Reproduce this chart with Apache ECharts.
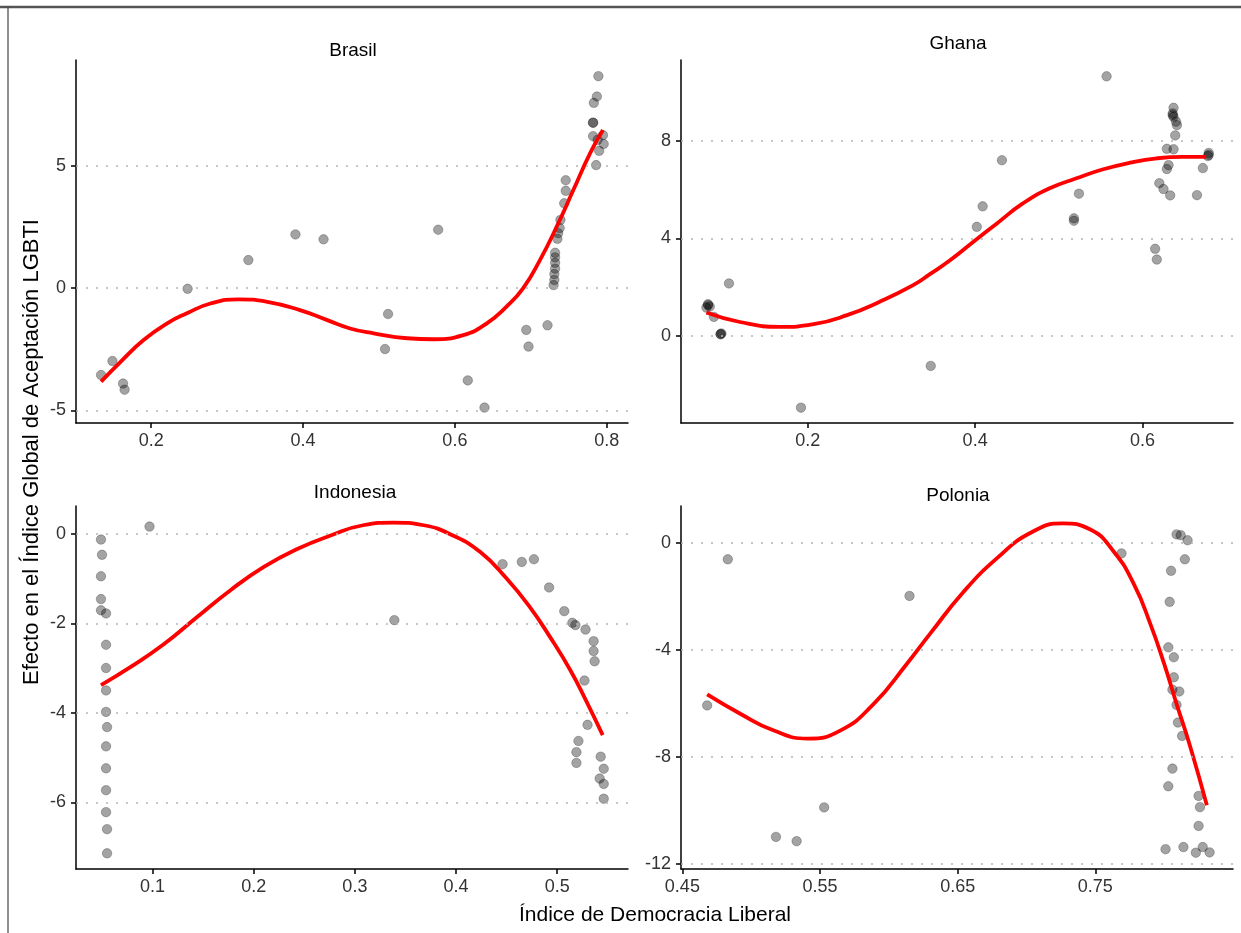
<!DOCTYPE html>
<html>
<head>
<meta charset="utf-8">
<script src="https://cdn.jsdelivr.net/npm/echarts@6/dist/echarts.min.js"></script>
<style>
  html, body { margin: 0; padding: 0; background: #fff; }
  #chart { width: 1241px; height: 933px; }
</style>
</head>
<body>
<div id="chart"></div>
<script>
// ---------------- Data ----------------
const panelTitles = ["Brasil", "Ghana", "Indonesia", "Polonia"];
const xAxisTitle = "Índice de Democracia Liberal";
const yAxisTitle = "Efecto en el Índice Global de Aceptación LGBTI";

// Brasil
const brasilX = [0.134,0.149,0.163,0.165,0.248,0.328,0.390,0.427,0.578,0.512,0.508,0.617,0.639,0.694,0.697,0.722,
  0.730,0.731,0.731,0.732,0.732,0.732,0.732,0.735,0.736,0.738,0.739,0.744,0.746,0.746,
  0.789,0.787,0.783,0.782,0.782,0.782,0.795,0.796,0.790,0.786,0.788];
const brasilY = [-3.55,-2.98,-3.90,-4.15,-0.03,1.14,2.19,1.99,2.38,-1.06,-2.49,-3.77,-4.88,-1.71,-2.39,-1.52,
  0.12,0.33,0.57,0.79,1.03,1.25,1.44,2.01,2.24,2.45,2.78,3.46,3.97,4.40,
  8.65,7.82,7.56,6.75,6.75,6.20,6.24,5.88,5.60,5.02,6.05];
const brasilFitX = [0.134,0.160,0.190,0.221,0.247,0.278,0.315,0.353,0.396,0.432,0.462,0.493,0.537,0.572,0.611,0.642,0.668,0.690,0.712,0.734,0.756,0.778,0.795];
const brasilFitY = [-3.82,-3.00,-2.12,-1.44,-1.03,-0.63,-0.46,-0.56,-0.90,-1.31,-1.65,-1.85,-2.05,-2.09,-1.92,-1.44,-0.76,0.00,1.14,2.50,4.00,5.50,6.45];
const brasilXTicks = [0.2, 0.4, 0.6, 0.8];
const brasilYTicks = [-5, 0, 5];

// Ghana
const ghanaX = [0.081,0.081,0.083,0.079,0.088,0.096,0.096,0.097,0.106,0.192,0.347,0.402,0.409,0.432,0.518,0.518,0.524,0.557,
  0.615,0.617,0.620,0.625,0.633,0.629,0.637,0.631,0.629,0.637,0.636,0.636,0.637,0.640,0.641,0.639,0.665,0.672,0.679,0.679,0.678];
const ghanaY = [1.26,1.30,1.20,1.16,0.78,0.07,0.07,0.10,2.15,-2.94,-1.23,4.47,5.31,7.20,4.82,4.72,5.83,10.64,
  3.57,3.13,6.26,6.02,5.76,7.67,7.65,7.00,6.84,9.35,9.12,9.05,8.98,8.78,8.64,8.22,5.77,6.88,7.50,7.42,7.37];
const ghanaFitX = [0.079,0.119,0.167,0.207,0.247,0.286,0.326,0.346,0.370,0.398,0.426,0.457,0.489,0.521,0.553,0.585,0.617,0.648,0.676];
const ghanaFitY = [0.96,0.57,0.37,0.48,0.85,1.40,2.08,2.53,3.10,3.86,4.61,5.43,6.05,6.46,6.83,7.10,7.28,7.34,7.34];
const ghanaXTicks = [0.2, 0.4, 0.6];
const ghanaYTicks = [0, 4, 8];

// Indonesia
const indonesiaX = [0.049,0.050,0.049,0.049,0.049,0.054,0.054,0.054,0.054,0.054,0.055,0.054,0.054,0.054,0.054,0.055,0.055,0.097,
  0.339,0.446,0.465,0.477,0.492,0.507,0.515,0.518,0.528,0.536,0.536,0.537,0.527,0.530,0.521,0.519,0.519,0.543,0.546,0.542,0.546,0.546];
const indonesiaY = [-0.13,-0.47,-0.95,-1.46,-1.71,-1.78,-2.48,-3.00,-3.50,-3.98,-4.32,-4.75,-5.24,-5.73,-6.22,-6.60,-7.14,0.16,
  -1.93,-0.68,-0.63,-0.57,-1.20,-1.73,-1.99,-2.04,-2.14,-2.40,-2.62,-2.85,-3.28,-4.27,-4.63,-4.88,-5.12,-4.98,-5.25,-5.47,-5.59,-5.92];
const indonesiaFitX = [0.049,0.078,0.111,0.144,0.177,0.210,0.243,0.276,0.308,0.338,0.368,0.397,0.424,0.450,0.473,0.493,0.513,0.529,0.545];
const indonesiaFitY = [-3.38,-2.98,-2.47,-1.86,-1.26,-0.74,-0.34,-0.04,0.19,0.25,0.19,-0.04,-0.41,-1.00,-1.64,-2.31,-3.05,-3.75,-4.50];
const indonesiaXTicks = [0.1, 0.2, 0.3, 0.4, 0.5];
const indonesiaYTicks = [-6, -4, -2, 0];

// Polonia
const poloniaX = [0.468,0.483,0.615,0.518,0.533,0.553,0.769,0.809,0.812,0.817,0.815,0.805,0.804,0.803,0.807,0.807,0.806,0.811,
  0.809,0.810,0.813,0.806,0.803,0.825,0.826,0.825,0.801,0.814,0.823,0.828,0.833];
const poloniaY = [-6.08,-0.62,-1.99,-10.99,-11.15,-9.89,-0.40,0.31,0.28,0.09,-0.62,-1.05,-2.21,-3.91,-4.28,-5.03,-5.49,-5.56,
  -6.06,-6.72,-7.22,-8.44,-9.10,-9.46,-9.88,-10.58,-11.45,-11.37,-11.58,-11.37,-11.57];
const poloniaFitX = [0.468,0.492,0.516,0.541,0.565,0.589,0.613,0.630,0.654,0.679,0.703,0.726,0.746,0.763,0.778,0.790,0.800,0.809,0.819,0.831];
const poloniaFitY = [-5.67,-6.39,-7.01,-7.32,-7.01,-6.02,-4.53,-3.40,-1.85,-0.56,0.37,0.72,0.50,-0.31,-1.55,-3.04,-4.53,-6.02,-7.63,-9.81];
const poloniaXTicks = [0.45, 0.55, 0.65, 0.75];
const poloniaYTicks = [-12, -8, -4, 0];

// ---------------- Build ----------------
const panels = [
  { x: brasilX, y: brasilY, fx: brasilFitX, fy: brasilFitY, xt: brasilXTicks, yt: brasilYTicks,
    grid: { left: 76, top: 60 }, xr: [0.101, 0.828], yr: [-5.51, 9.31], title: { x: 348, y: 36 } },
  { x: ghanaX, y: ghanaY, fx: ghanaFitX, fy: ghanaFitY, xt: ghanaXTicks, yt: ghanaYTicks,
    grid: { left: 681, top: 60 }, xr: [0.0487, 0.708], yr: [-3.57, 11.31], title: { x: 953, y: 29 } },
  { x: indonesiaX, y: indonesiaY, fx: indonesiaFitX, fy: indonesiaFitY, xt: indonesiaXTicks, yt: indonesiaYTicks,
    grid: { left: 76, top: 506 }, xr: [0.0243, 0.570], yr: [-7.49, 0.62], title: { x: 350, y: 478 } },
  { x: poloniaX, y: poloniaY, fx: poloniaFitX, fy: poloniaFitY, xt: poloniaXTicks, yt: poloniaYTicks,
    grid: { left: 681, top: 506 }, xr: [0.449, 0.850], yr: [-12.19, 1.37], title: { x: 953, y: 481 } }
];

const FONT = "'Liberation Sans', Arial, sans-serif";
const fmt = v => String(Math.round(v * 1000) / 1000);
const axisLineStyle = { color: '#000', width: 1.5 };

const option = {
  animation: false,
  backgroundColor: '#fff',
  title: panels.map((p, i) => ({
    text: panelTitles[i],
    left: p.title.x, top: p.title.y,
    textAlign: 'center',
    textStyle: { fontFamily: FONT, fontSize: 19, fontWeight: 'normal', color: '#000' }
  })),
  grid: panels.map(p => ({ left: p.grid.left, top: p.grid.top, width: 552, height: 363, containLabel: false })),
  xAxis: panels.map((p, i) => ({
    type: 'value', gridIndex: i, min: p.xr[0], max: p.xr[1],
    axisLine: { show: true, onZero: false, lineStyle: axisLineStyle },
    axisTick: { show: true, length: 5, customValues: p.xt, lineStyle: axisLineStyle },
    axisLabel: { customValues: p.xt, formatter: fmt, fontFamily: FONT, fontSize: 18, color: '#333', margin: 9 },
    splitLine: { show: false }
  })),
  yAxis: panels.map((p, i) => ({
    type: 'value', gridIndex: i, min: p.yr[0], max: p.yr[1],
    axisLine: { show: true, onZero: false, lineStyle: axisLineStyle },
    axisTick: { show: true, length: 5, customValues: p.yt, lineStyle: axisLineStyle },
    axisLabel: { customValues: p.yt, formatter: fmt, fontFamily: FONT, fontSize: 18, color: '#333', margin: 10 },
    splitLine: { show: false }
  })),
  series: [].concat(...panels.map((p, i) => [
    {
      type: 'scatter', xAxisIndex: i, yAxisIndex: i,
      data: p.x.map((v, k) => [v, p.y[k]]),
      symbolSize: 9.5,
      itemStyle: { color: 'rgba(0,0,0,0.45)', borderColor: 'rgba(0,0,0,0.3)', borderWidth: 1 },
      z: 2,
      markLine: {
        silent: true, symbol: ['none', 'none'], label: { show: false },
        lineStyle: { type: [2, 8], color: '#b5b5b5', width: 1.6 },
        data: p.yt.map(v => ({ yAxis: v }))
      }
    },
    {
      type: 'line', xAxisIndex: i, yAxisIndex: i,
      data: p.fx.map((v, k) => [v, p.fy[k]]),
      showSymbol: false, smooth: 0.5,
      lineStyle: { color: '#ff0000', width: 3.8 },
      z: 3
    }
  ])),
  graphic: [
    { type: 'line', shape: { x1: 0, y1: 7, x2: 1241, y2: 7 }, style: { stroke: '#555', lineWidth: 2.5 } },
    { type: 'line', shape: { x1: 8, y1: 7, x2: 8, y2: 933 }, style: { stroke: '#444', lineWidth: 1.2 } },
    { type: 'text', x: 32, y: 452, rotation: Math.PI / 2,
      style: { text: yAxisTitle, font: "22px 'Liberation Sans', Arial, sans-serif", fill: '#000', textAlign: 'center', textVerticalAlign: 'middle' } },
    { type: 'text', x: 655, y: 915,
      style: { text: xAxisTitle, font: "21px 'Liberation Sans', Arial, sans-serif", fill: '#000', textAlign: 'center', textVerticalAlign: 'middle' } }
  ]
};

const chart = echarts.init(document.getElementById('chart'), null, { renderer: 'canvas' });
chart.setOption(option);
</script>
</body>
</html>
